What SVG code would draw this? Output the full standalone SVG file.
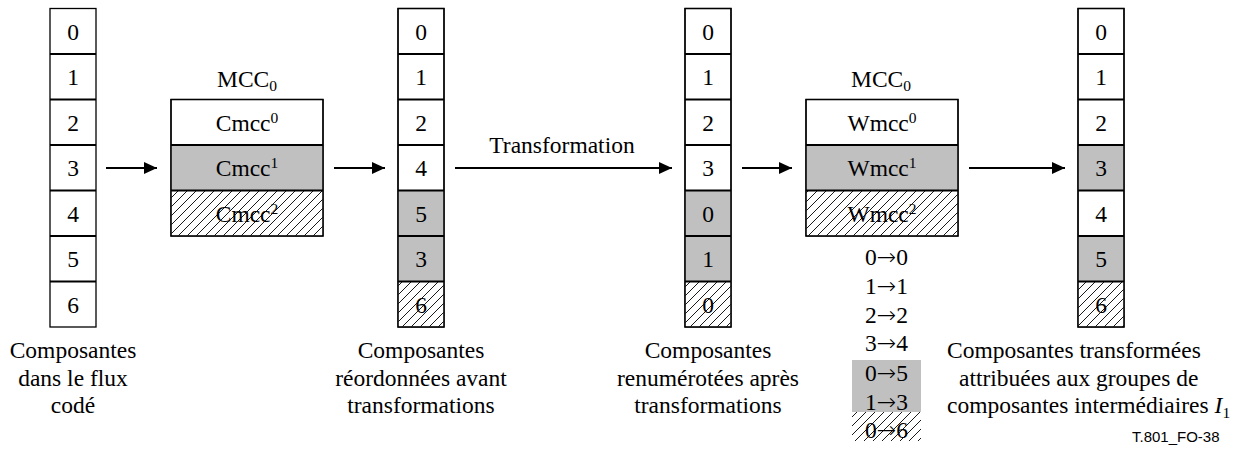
<svg xmlns="http://www.w3.org/2000/svg" width="1249" height="457" viewBox="0 0 1249 457">
<style>
.t{font-family:"Liberation Serif","Times New Roman",serif;font-size:23.5px;fill:#000}
.m{text-anchor:middle}
.box{fill:#fff;stroke:#000;stroke-width:1.3}
.g{fill:#c0c0c0;stroke:none}
.h{fill:url(#hatch);stroke:none}
.sep{stroke:#000;stroke-width:2}
.ar{stroke:#000;stroke-width:2;fill:none;marker-end:url(#ah)}
.arr{font-family:"DejaVu Sans",sans-serif;font-weight:200}
.code{font-family:"Liberation Sans",Arial,sans-serif;font-size:15px;fill:#000}
</style>
<defs>
<pattern id="hatch" patternUnits="userSpaceOnUse" width="9" height="9">
<rect width="9" height="9" fill="#fff"/>
<path d="M0,9 L9,0 M-2,2 L2,-2 M7,11 L11,7" stroke="#000" stroke-width="0.9"/>
</pattern>
<marker id="ah" markerUnits="userSpaceOnUse" markerWidth="14" markerHeight="12" refX="13" refY="6" orient="auto">
<path d="M0,0 L13,6 L0,12 Z" fill="#000"/>
</marker>
</defs>

<g id="connectors">
<line class="ar" x1="106" y1="168" x2="157" y2="168"/>
<line class="ar" x1="334" y1="168" x2="385" y2="168"/>
<line class="ar" x1="455" y1="168" x2="672" y2="168"/>
<text class="t m" x="562" y="153">Transformation</text>
<line class="ar" x1="742" y1="168" x2="792" y2="168"/>
<line class="ar" x1="969" y1="168" x2="1065" y2="168"/>
</g>

<g id="col1">
<rect class="box" x="50" y="8.5" width="46" height="318.5"/>
<g class="sep"><line x1="50" x2="96" y1="54" y2="54"/><line x1="50" x2="96" y1="99.5" y2="99.5"/><line x1="50" x2="96" y1="145" y2="145"/><line x1="50" x2="96" y1="190.5" y2="190.5"/><line x1="50" x2="96" y1="236" y2="236"/><line x1="50" x2="96" y1="281.5" y2="281.5"/></g>
<g class="t m"><text x="73" y="39.5">0</text><text x="73" y="85">1</text><text x="73" y="130.5">2</text><text x="73" y="176">3</text><text x="73" y="221.5">4</text><text x="73" y="267">5</text><text x="73" y="312.5">6</text></g>
<g class="t m"><text x="73" y="358">Composantes</text><text x="73" y="386">dans le flux</text><text x="73" y="413">codé</text></g>
</g>

<g id="mcc1">
<text class="t m" x="247" y="87">MCC<tspan font-size="15.5" dy="4">0</tspan></text>
<rect class="box" x="171" y="99.5" width="152" height="136.5"/>
<rect class="g" x="171.6" y="145" width="150.8" height="45.5"/>
<rect class="h" x="171.6" y="190.5" width="150.8" height="44.8"/>
<rect x="171" y="99.5" width="152" height="136.5" fill="none" stroke="#000" stroke-width="1.3"/>
<g class="sep"><line x1="171" x2="323" y1="145" y2="145"/><line x1="171" x2="323" y1="190.5" y2="190.5"/></g>
<text class="t m" x="247" y="130.5">Cmcc<tspan font-size="15.5" dy="-8">0</tspan></text>
<text class="t m" x="247" y="176">Cmcc<tspan font-size="15.5" dy="-8">1</tspan></text>
<text class="t m" x="247" y="221.5">Cmcc<tspan font-size="15.5" dy="-8">2</tspan></text>
</g>

<g id="col2">
<rect class="box" x="398" y="8.5" width="46" height="318.5"/>
<rect class="g" x="398.6" y="190.5" width="44.8" height="91"/>
<rect class="h" x="398.6" y="281.5" width="44.8" height="44.8"/>
<rect x="398" y="8.5" width="46" height="318.5" fill="none" stroke="#000" stroke-width="1.3"/>
<g class="sep"><line x1="398" x2="444" y1="54" y2="54"/><line x1="398" x2="444" y1="99.5" y2="99.5"/><line x1="398" x2="444" y1="145" y2="145"/><line x1="398" x2="444" y1="190.5" y2="190.5"/><line x1="398" x2="444" y1="236" y2="236"/><line x1="398" x2="444" y1="281.5" y2="281.5"/></g>
<g class="t m"><text x="421" y="39.5">0</text><text x="421" y="85">1</text><text x="421" y="130.5">2</text><text x="421" y="176">4</text><text x="421" y="221.5">5</text><text x="421" y="267">3</text><text x="421" y="312.5">6</text></g>
<g class="t m"><text x="421" y="358">Composantes</text><text x="421" y="386">réordonnées avant</text><text x="421" y="413">transformations</text></g>
</g>

<g id="col3">
<rect class="box" x="685" y="8.5" width="46" height="318.5"/>
<rect class="g" x="685.6" y="190.5" width="44.8" height="91"/>
<rect class="h" x="685.6" y="281.5" width="44.8" height="44.8"/>
<rect x="685" y="8.5" width="46" height="318.5" fill="none" stroke="#000" stroke-width="1.3"/>
<g class="sep"><line x1="685" x2="731" y1="54" y2="54"/><line x1="685" x2="731" y1="99.5" y2="99.5"/><line x1="685" x2="731" y1="145" y2="145"/><line x1="685" x2="731" y1="190.5" y2="190.5"/><line x1="685" x2="731" y1="236" y2="236"/><line x1="685" x2="731" y1="281.5" y2="281.5"/></g>
<g class="t m"><text x="708" y="39.5">0</text><text x="708" y="85">1</text><text x="708" y="130.5">2</text><text x="708" y="176">3</text><text x="708" y="221.5">0</text><text x="708" y="267">1</text><text x="708" y="312.5">0</text></g>
<g class="t m"><text x="708" y="358">Composantes</text><text x="708" y="386">renumérotées après</text><text x="708" y="413">transformations</text></g>
</g>

<g id="mcc2">
<text class="t m" x="881" y="87">MCC<tspan font-size="15.5" dy="4">0</tspan></text>
<rect class="box" x="806" y="99.5" width="152" height="136.5"/>
<rect class="g" x="806.6" y="145" width="150.8" height="45.5"/>
<rect class="h" x="806.6" y="190.5" width="150.8" height="44.8"/>
<rect x="806" y="99.5" width="152" height="136.5" fill="none" stroke="#000" stroke-width="1.3"/>
<g class="sep"><line x1="806" x2="958" y1="145" y2="145"/><line x1="806" x2="958" y1="190.5" y2="190.5"/></g>
<text class="t m" x="882" y="130.5">Wmcc<tspan font-size="15.5" dy="-8">0</tspan></text>
<text class="t m" x="882" y="176">Wmcc<tspan font-size="15.5" dy="-8">1</tspan></text>
<text class="t m" x="882" y="221.5">Wmcc<tspan font-size="15.5" dy="-8">2</tspan></text>
</g>

<g id="mapping">
<rect class="g" x="852" y="360" width="69" height="52"/>
<rect class="h" x="852" y="412" width="69" height="29"/>
<g class="t m"><text x="886.5" y="264.5">0<tspan class="arr">→</tspan>0</text><text x="886.5" y="293.5">1<tspan class="arr">→</tspan>1</text><text x="886.5" y="322.5">2<tspan class="arr">→</tspan>2</text><text x="886.5" y="351">3<tspan class="arr">→</tspan>4</text><text x="886.5" y="380.5">0<tspan class="arr">→</tspan>5</text><text x="886.5" y="409.5">1<tspan class="arr">→</tspan>3</text><text x="886.5" y="438">0<tspan class="arr">→</tspan>6</text></g>
</g>

<g id="col4">
<rect class="box" x="1078" y="8.5" width="46" height="318.5"/>
<rect class="g" x="1078.6" y="145" width="44.8" height="45.5"/>
<rect class="g" x="1078.6" y="236" width="44.8" height="45.5"/>
<rect class="h" x="1078.6" y="281.5" width="44.8" height="44.8"/>
<rect x="1078" y="8.5" width="46" height="318.5" fill="none" stroke="#000" stroke-width="1.3"/>
<g class="sep"><line x1="1078" x2="1124" y1="54" y2="54"/><line x1="1078" x2="1124" y1="99.5" y2="99.5"/><line x1="1078" x2="1124" y1="145" y2="145"/><line x1="1078" x2="1124" y1="190.5" y2="190.5"/><line x1="1078" x2="1124" y1="236" y2="236"/><line x1="1078" x2="1124" y1="281.5" y2="281.5"/></g>
<g class="t m"><text x="1101" y="39.5">0</text><text x="1101" y="85">1</text><text x="1101" y="130.5">2</text><text x="1101" y="176">3</text><text x="1101" y="221.5">4</text><text x="1101" y="267">5</text><text x="1101" y="312.5">6</text></g>
<g class="t"><text x="947" y="358">Composantes transformées</text><text x="959" y="386">attribuées aux groupes de</text><text x="947" y="413">composantes intermédiaires <tspan font-style="italic">I</tspan><tspan font-size="15.5" dy="5">1</tspan></text></g>
</g>

<text class="code" x="1132" y="442">T.801_FO-38</text>
</svg>
